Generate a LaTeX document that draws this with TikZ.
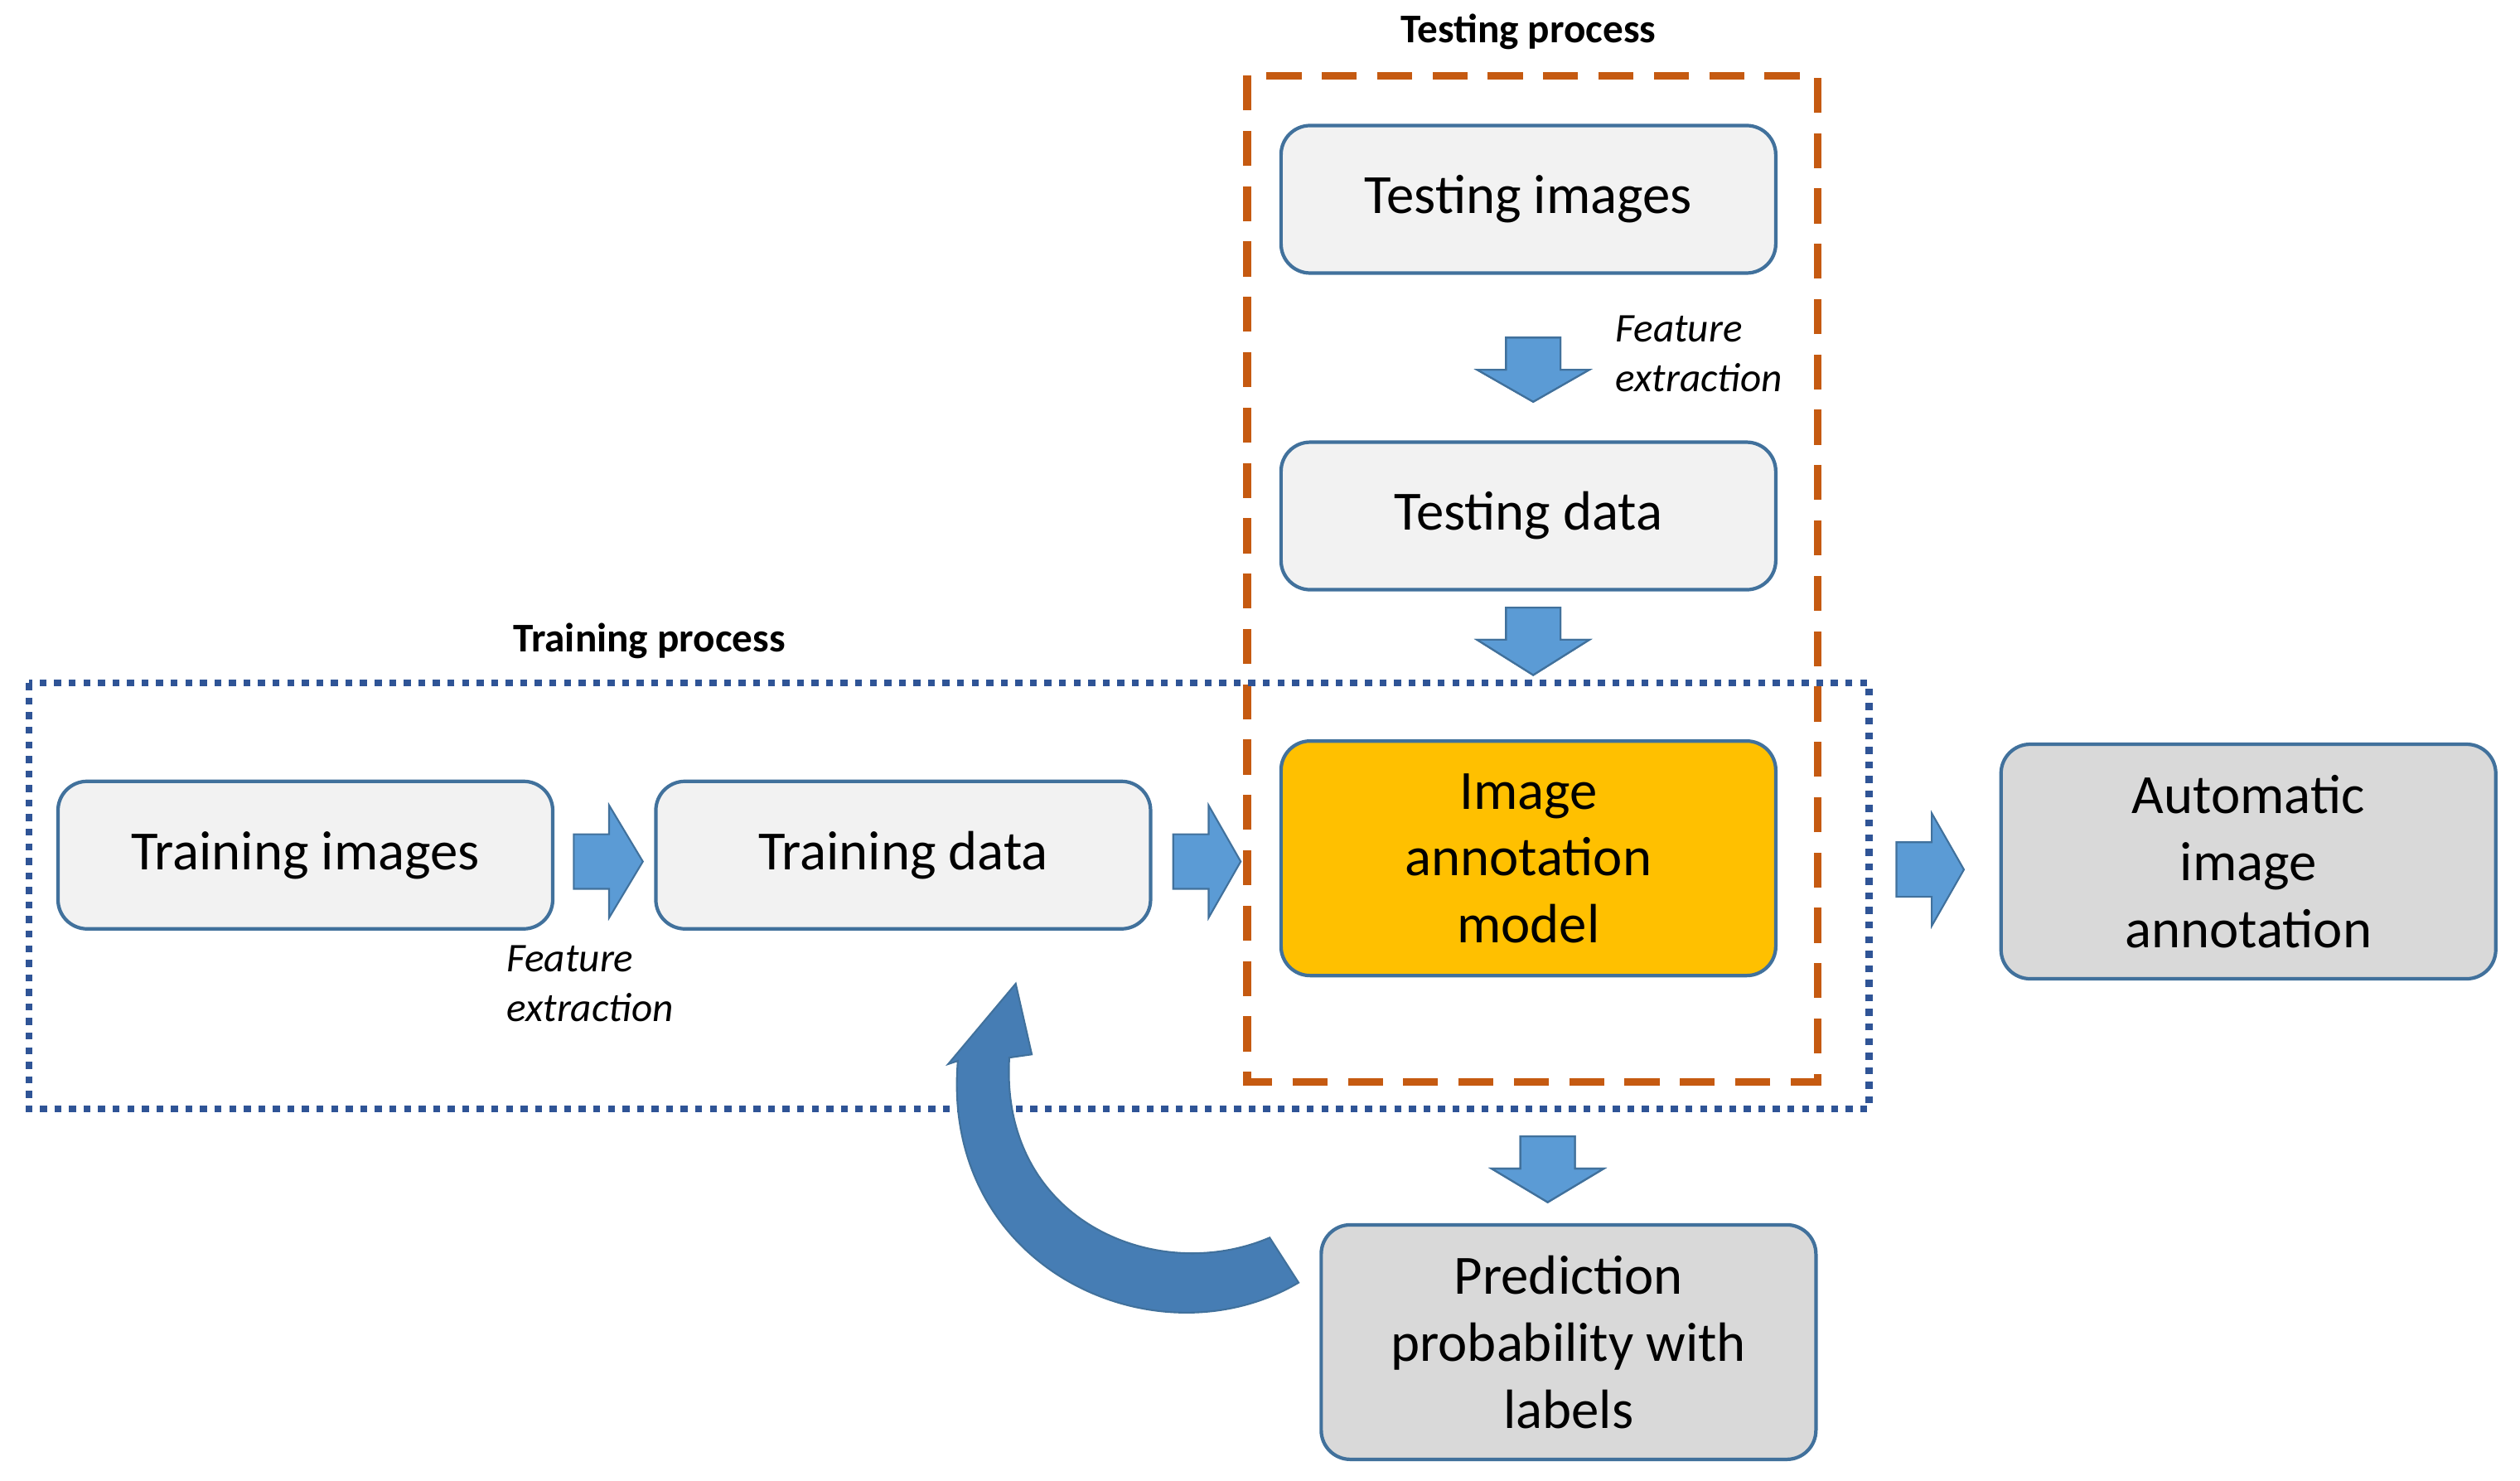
\documentclass[tikz,border=0pt]{standalone}
\usepackage{fontspec}
\setmainfont{Carlito}
\begin{document}
\begin{tikzpicture}[x=0.01939cm,y=-0.01939cm,
  box/.style={draw=blue!40!black!70!cyan!80, draw={rgb,255:red,65;green,113;blue,156}, line width=1.2pt, rounded corners=10pt, fill={rgb,255:red,242;green,242;blue,242}, minimum width=5.97cm, minimum height=1.78cm, align=center, font=\fontsize{19}{23}\selectfont},
  tall/.style={minimum height=2.83cm},
  barr/.style={fill={rgb,255:red,91;green,155;blue,213}, draw={rgb,255:red,65;green,113;blue,156}, line width=0.6pt},
  fe/.style={font=\itshape\fontsize{14}{17}\selectfont, align=left, anchor=north west, inner sep=0pt},
  ttl/.style={font=\bfseries\fontsize{14}{17}\selectfont}]
\useasboundingbox (0,0) rectangle (1568,921);
\newcommand\darr[3]{\fill[barr] (#1-17,#2) -- (#1+17,#2) -- (#1+17,#2+20) -- (#1+35,#2+20) -- (#1,#3) -- (#1-35,#2+20) -- (#1-17,#2+20) -- cycle;
 \draw[barr,fill=none] (#1-17,#2) -- (#1+17,#2) -- (#1+17,#2+20) -- (#1+35,#2+20) -- (#1,#3) -- (#1-35,#2+20) -- (#1-17,#2+20) -- cycle;}
\newcommand\rarr[3]{\filldraw[barr] (#1,#3-17) -- (#1,#3+17) -- (#1+22,#3+17) -- (#1+22,#3+35) -- (#2,#3) -- (#1+22,#3-35) -- (#1+22,#3-17) -- cycle;}
% frames
\draw[draw={rgb,255:red,197;green,90;blue,17}, line width=2.6pt, dash pattern=on 12pt off 7pt] (776,47) rectangle (1131,673);
\draw[draw={rgb,255:red,47;green,84;blue,150}, line width=2.4pt, dash pattern=on 2.4pt off 2.6pt] (18,425) rectangle (1163,690);
\node[ttl] (ttest) at (951,20) {Testing process};
\node[ttl] (ttrain) at (404,399) {Training process};
% boxes
\node[box] (ti) at (951,124) {Testing images};
\node[box] (td) at (951,321) {Testing data};
\node[box,tall,fill={rgb,255:red,255;green,192;blue,0}] (iam) at (951,534) {Image\\annotation\\model};
\node[box] (tri) at (190,532) {Training images};
\node[box] (trd) at (562,532) {Training data};
\node[box,tall,fill={rgb,255:red,217;green,217;blue,217}] (aia) at (1399,536) {Automatic\\image\\annotation};
\node[box,tall,fill={rgb,255:red,217;green,217;blue,217}] (ppl) at (976,835) {Prediction\\probability with\\labels};
% arrows
\darr{954}{210}{250}
\darr{954}{378}{420}
\darr{963}{707}{748}
\rarr{357}{400}{536}
\rarr{730}{772}{536}
\rarr{1180}{1222}{541}
\node[fe] (fe1) at (1005,196) {Feature\\extraction};
\node[fe] (fe2) at (315,588) {Feature\\extraction};
% curved arrow
\filldraw[fill={rgb,255:red,70;green,125;blue,180}, draw={rgb,255:red,65;green,113;blue,156}, line width=0.6pt]
 (808,798) .. controls (720,850) and (585,790) .. (596,660)
 -- (590,662) -- (632,612) -- (642,656) -- (628,658)
 .. controls (622,760) and (720,800) .. (790,770) -- cycle;
\end{tikzpicture}
\end{document}
